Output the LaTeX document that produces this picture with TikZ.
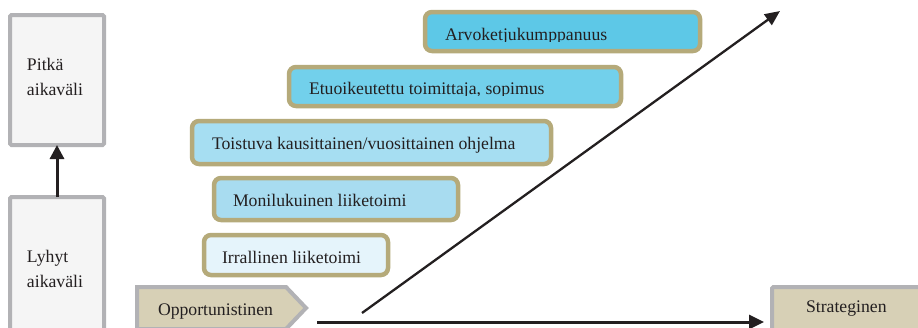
\documentclass[tikz,border=0pt]{standalone}
\usepackage{fontspec}
\setmainfont{Liberation Serif}
\usetikzlibrary{arrows.meta}

\definecolor{inkdark}{RGB}{35,31,32}
\definecolor{greyrim}{RGB}{178,178,181}
\definecolor{greyfill}{RGB}{245,245,245}
\definecolor{khakirim}{RGB}{181,170,122}
\definecolor{khakifill}{RGB}{215,208,182}
\definecolor{tierA}{RGB}{93,200,231}
\definecolor{tierB}{RGB}{114,208,235}
\definecolor{tierC}{RGB}{166,222,242}
\definecolor{tierD}{RGB}{168,220,240}
\definecolor{tierE}{RGB}{229,244,251}

\tikzset{
  horizonbox/.style={draw=greyrim, fill=greyfill, line width=4pt, rounded corners=1.5pt,
    anchor=north west, inner sep=0pt, outer sep=0pt},
  tierbox/.style={draw=khakirim, line width=4.5pt, rounded corners=7pt,
    anchor=north west, inner sep=0pt, outer sep=0pt},
  caption/.style={anchor=base west, inner sep=0pt, outer sep=0pt, text=inkdark},
  bigarrow/.style={draw=inkdark, line width=3pt,
    -{Triangle[length=15pt,width=14pt]}},
  slimarrow/.style={draw=inkdark, line width=2.3pt,
    -{Triangle[length=15pt,width=13pt]}},
}

\begin{document}
\begin{tikzpicture}[x=1pt,y=-1pt,font=\fontsize{17.7}{21}\selectfont]
\clip (0,0) rectangle (918,327);
\fill[white] (0,0) rectangle (918,327);

% time horizon column
\node[horizonbox, minimum width=94pt, minimum height=130pt] (long) at (10,15) {};
\node[caption] (longA) at (27,70) {Pitkä};
\node[caption] (longB) at (27,95) {aikaväli};
\node[horizonbox, minimum width=94pt, minimum height=150pt] (short) at (10,197) {};
\node[caption] (shortA) at (27,262) {Lyhyt};
\node[caption] (shortB) at (27,287) {aikaväli};
\draw[draw=inkdark, line width=3pt, -{Triangle[length=14pt,width=14pt]}]
  (short.north) -- (long.south);

% relationship tiers
\node[tierbox, fill=tierA, minimum width=275pt, minimum height=39pt] (chain) at (425,12) {};
\begin{scope}
  \clip (425,12) rectangle (700,41.5);
  \node[caption] (chainT) at (445,40) {Arvoketjukumppanuus};
\end{scope}

\node[tierbox, fill=tierB, minimum width=332pt, minimum height=39pt] (pref) at (289,67) {};
\begin{scope}
  \clip (289,67) rectangle (621,95.5);
  \node[caption] (prefT) at (309,94) {Etuoikeutettu toimittaja, sopimus};
\end{scope}

\node[tierbox, fill=tierC, minimum width=359pt, minimum height=43pt] (repeat) at (192,121) {};
\node[caption] (repeatT) at (212,149) {Toistuva kausittainen/vuosittainen ohjelma};

\node[tierbox, fill=tierD, minimum width=244pt, minimum height=42pt] (multi) at (214,178) {};
\node[caption] (multiT) at (233,206) {Monilukuinen liiketoimi};

\node[tierbox, fill=tierE, minimum width=184pt, minimum height=40pt] (single) at (204,235) {};
\node[caption] (singleT) at (222,263) {Irrallinen liiketoimi};

% orientation scale
\draw[draw=greyrim, fill=khakifill, line width=4pt, line join=miter]
  (137,287) -- (286,287) -- (306,308) -- (286,329) -- (137,329) -- cycle;
\node[caption] (opp) at (158,315) {Opportunistinen};
\node[horizonbox, draw=greyrim, fill=khakifill, minimum width=160pt, minimum height=60pt] (strat) at (772,287) {};
\node[caption] (stratT) at (806,312) {Strateginen};

\coordinate (axisStart) at (317,322);
\coordinate (axisEnd) at (764,322);
\draw[bigarrow] (axisStart) -- (axisEnd);

\coordinate (riseStart) at (362,313);
\coordinate (riseEnd) at (780,11);
\draw[slimarrow] (riseStart) -- (riseEnd);
\end{tikzpicture}
\end{document}
